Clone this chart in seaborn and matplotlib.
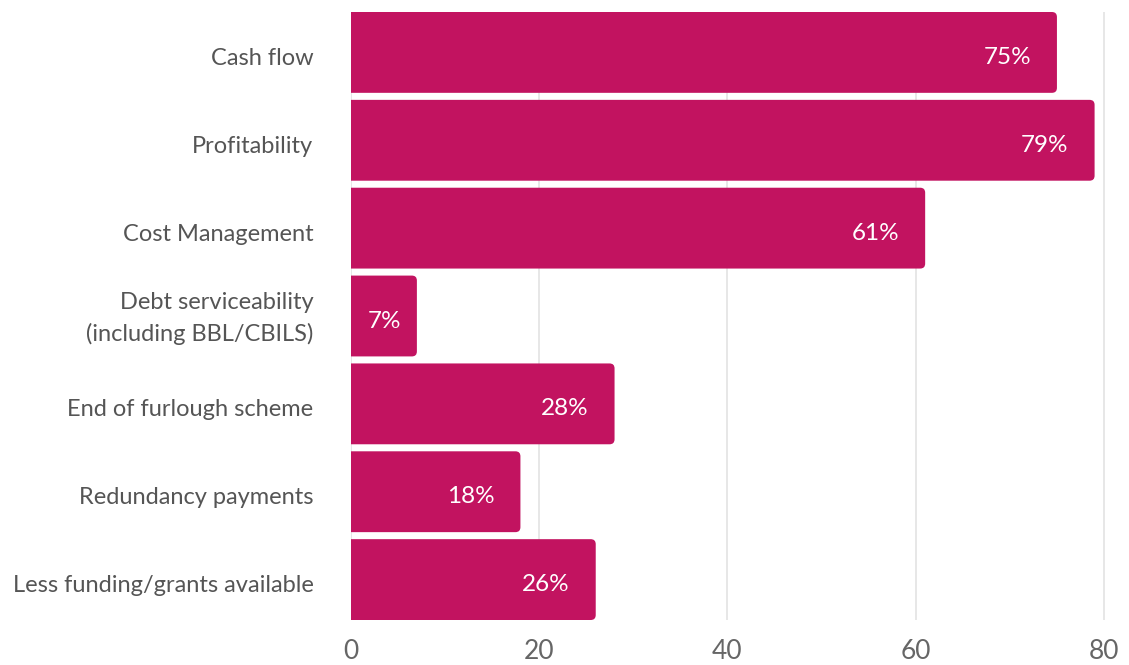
import matplotlib
matplotlib.use("Agg")
import matplotlib.pyplot as plt
import matplotlib.transforms as mtransforms
from matplotlib.patches import FancyBboxPatch
import seaborn as sns
import pandas as pd

categories = [
    "Cash flow",
    "Profitability",
    "Cost Management",
    "Debt serviceability\n(including BBL/CBILS)",
    "End of furlough scheme",
    "Redundancy payments",
    "Less funding/grants available",
]
values = [75, 79, 61, 7, 28, 18, 26]
x_ticks = [0, 20, 40, 60, 80]

BAR_COLOR = "#C21360"
LABEL_COLOR = "#555555"
BAR_WIDTH = 0.92

sns.set_theme(style="white")
plt.rcParams["font.family"] = ["Lato", "DejaVu Sans"]

df = pd.DataFrame({"category": categories, "value": values})

W, H = 1129, 665
fig = plt.figure(figsize=(W / 100, H / 100), dpi=100)
x0_px, unit_px = 351, (1104 - 351) / 80
xmax = 81
top_px, bottom_px = 12, 620
ax = fig.add_axes([x0_px / W, 1 - bottom_px / H, xmax * unit_px / W, (bottom_px - top_px) / H])

sns.barplot(data=df, x="value", y="category", color=BAR_COLOR, width=BAR_WIDTH,
            saturation=1, ax=ax, zorder=2)

n = len(categories)
ax.set_xlim(0, xmax)
ax.set_ylim(n - 1 + BAR_WIDTH / 2, -BAR_WIDTH / 2)

# Replace the plain rectangles with bars whose right end is rounded
r_px = 5
rx = r_px / unit_px
ry = r_px / ((bottom_px - top_px) / (n - 1 + BAR_WIDTH))
for p in list(ax.patches):
    x, y, w, h = p.get_x(), p.get_y(), p.get_width(), p.get_height()
    rounded = FancyBboxPatch((x - 2, y), w + 2, h,
                             boxstyle=f"round,pad=0,rounding_size={rx}",
                             mutation_aspect=ry / rx,
                             facecolor=BAR_COLOR, edgecolor="none", zorder=2)
    ax.add_patch(rounded)
    p.remove()

for i, v in enumerate(values):
    pad = -16 if v < 10 else -26
    ax.annotate(f"{v}%", xy=(v, i), xytext=(pad, -5), textcoords="offset pixels",
                ha="right", va="center", color="white", fontsize=17.5)

ax.set_xticks(x_ticks)
ax.xaxis.grid(True, color="#e3e3e3", linewidth=1.2, zorder=0)
ax.set_axisbelow(True)
for s in ax.spines.values():
    s.set_visible(False)
ax.tick_params(axis="x", length=0, pad=14, labelsize=19, labelcolor="#666666")
ax.tick_params(axis="y", length=0, pad=27, labelsize=17, labelcolor=LABEL_COLOR)
for lbl in ax.get_yticklabels():
    lbl.set_horizontalalignment("right")
    lbl.set_multialignment("right")
    lbl.set_linespacing(1.55)
    dy = 4 / 100 if "\n" in lbl.get_text() else -4 / 100
    lbl.set_transform(lbl.get_transform() +
                      mtransforms.ScaledTranslation(0, dy, fig.dpi_scale_trans))
ax.set_xlabel("")
ax.set_ylabel("")

fig.savefig("out.png", dpi=100)
